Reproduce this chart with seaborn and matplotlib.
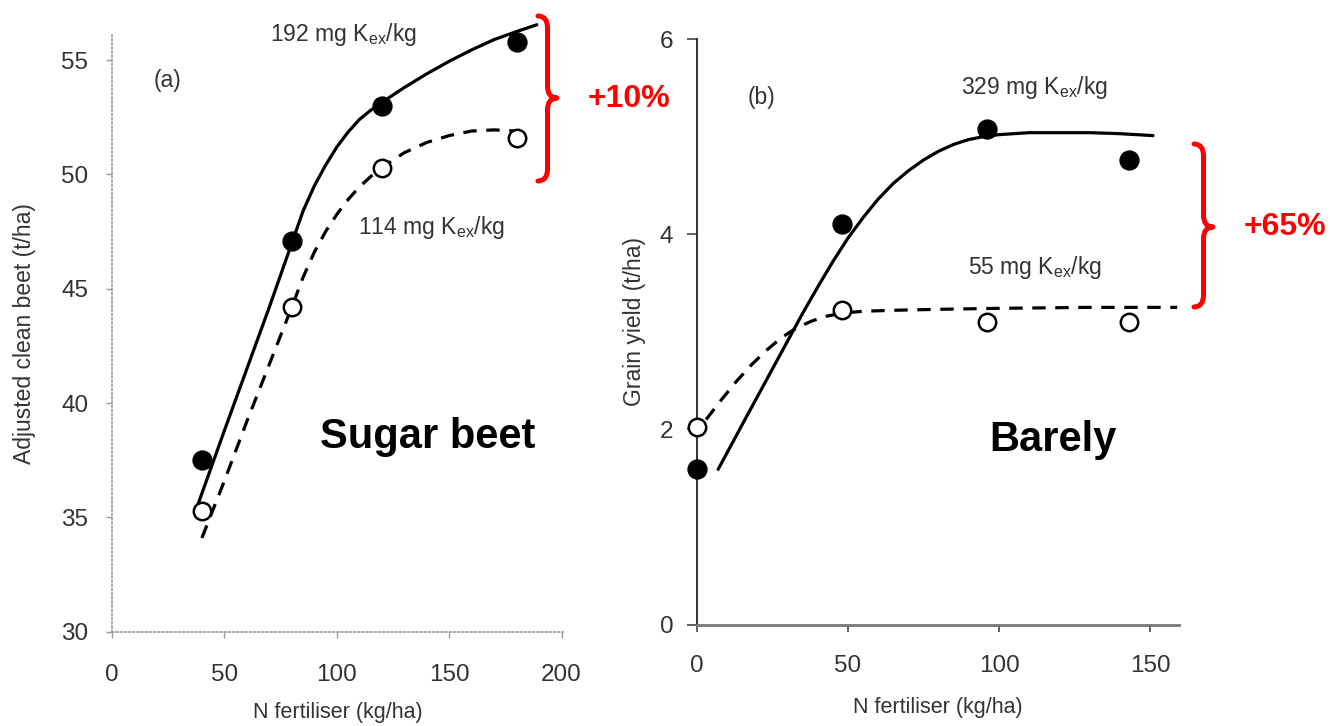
import numpy as np
import pandas as pd
import seaborn as sns
import matplotlib
matplotlib.use("Agg")
import matplotlib.pyplot as plt
from matplotlib.path import Path
from matplotlib.patches import PathPatch

# ---------------- data ----------------
# (a) Sugar beet
sb_n = [40, 80, 120, 180]
sb_high = [37.5, 47.1, 53.0, 55.8]      # 192 mg Kex/kg (filled)
sb_low = [35.3, 44.2, 50.3, 51.6]       # 114 mg Kex/kg (open)
sb_fit_high_x = [38, 50, 60, 70, 80, 85, 90, 95, 100, 105, 110, 115, 120, 130, 140, 150, 160, 170, 180, 189]
sb_fit_high_y = [35.5, 38.8, 41.5, 44.2, 47.0, 48.4, 49.5, 50.4, 51.2, 51.85, 52.4, 52.8, 53.15, 53.8, 54.4,
                 54.95, 55.45, 55.9, 56.25, 56.55]
sb_fit_low_x = [40, 50, 60, 70, 80, 85, 90, 95, 100, 105, 110, 115, 120, 130, 140, 150, 160, 170, 180]
sb_fit_low_y = [34.1, 36.6, 39.2, 41.7, 44.2, 45.5, 46.6, 47.5, 48.25, 48.9, 49.45, 49.9, 50.3, 50.95, 51.4,
                51.7, 51.9, 51.95, 51.9]

# (b) Barley
bar_n = [0, 48, 96, 143]
bar_high = [1.59, 4.1, 5.08, 4.76]      # 329 mg Kex/kg (filled)
bar_low = [2.02, 3.22, 3.1, 3.1]        # 55 mg Kex/kg (open)
bar_fit_high_x = [7, 15, 25, 35, 40, 45, 50, 55, 60, 65, 70, 75, 80, 85, 90, 95, 100, 110, 120, 130, 140, 151]
bar_fit_high_y = [1.59, 2.05, 2.62, 3.19, 3.46, 3.72, 3.96, 4.17, 4.36, 4.52, 4.65, 4.76, 4.85, 4.92, 4.97,
                  5.0, 5.02, 5.04, 5.04, 5.04, 5.03, 5.01]
bar_fit_low_x = [3, 8, 13, 18, 23, 28, 33, 38, 43, 48, 55, 65, 80, 100, 130, 159]
bar_fit_low_y = [2.1, 2.3, 2.49, 2.66, 2.81, 2.94, 3.04, 3.11, 3.16, 3.19, 3.21, 3.22, 3.23, 3.24, 3.25, 3.25]

sb_xticks = [0, 50, 100, 150, 200]
sb_yticks = [30, 35, 40, 45, 50, 55]
bar_xticks = [0, 50, 100, 150]
bar_yticks = [0, 2, 4, 6]

# ---------------- style ----------------
sns.set_theme(style="ticks")
FONT = ["Liberation Sans", "DejaVu Sans"]
plt.rcParams["font.family"] = FONT
plt.rcParams["mathtext.fontset"] = "custom"
plt.rcParams["mathtext.rm"] = "Liberation Sans"
plt.rcParams["lines.dashed_pattern"] = [4.2, 3.0]

W, H = 1330, 726
fig = plt.figure(figsize=(W / 100, H / 100), dpi=100)
fig.patch.set_facecolor("white")

def px_axes(x0, y_top, x1, y_bot):
    return fig.add_axes([x0 / W, 1 - y_bot / H, (x1 - x0) / W, (y_bot - y_top) / H])

TXT = "#333333"
TICK_FS = 17.5
XLAB_FS = 15.5
YLAB_FS = 16.5
ANN_FS = 16.5
BIG_FS = 30
MS = 185
LW = 2.3

# ---------------- panel (a) ----------------
ax1 = px_axes(112, 35, 562.7, 631.7)
ax1.set_xlim(0, 200.5)
ax1.set_ylim(30, 56.1)

sns.lineplot(x=sb_fit_high_x, y=sb_fit_high_y, ax=ax1, color="black", lw=LW, clip_on=False, sort=False)
sns.lineplot(x=sb_fit_low_x, y=sb_fit_low_y, ax=ax1, color="black", lw=LW, linestyle="--", clip_on=False, sort=False)
sns.scatterplot(x=sb_n, y=sb_high, ax=ax1, s=MS, color="black", edgecolor="black", linewidth=1, zorder=5, clip_on=False)
sns.scatterplot(x=sb_n, y=sb_low, ax=ax1, s=MS * 0.85, facecolor="white", edgecolor="black", linewidth=1.8, zorder=5, clip_on=False)

for sp in ["top", "right"]:
    ax1.spines[sp].set_visible(False)
for sp in ["left", "bottom"]:
    ax1.spines[sp].set_linestyle((0, (1, 1.5)))
    ax1.spines[sp].set_color("#9a9a9a")
    ax1.spines[sp].set_linewidth(1.2)
ax1.set_xticks(sb_xticks)
ax1.set_yticks(sb_yticks)
ax1.tick_params(axis="both", colors="#9a9a9a", labelcolor=TXT, labelsize=TICK_FS, length=4, width=1)
ax1.tick_params(axis="x", pad=19)
ax1.tick_params(axis="y", pad=13)
ax1.set_xlabel("N fertiliser (kg/ha)", fontsize=XLAB_FS, color=TXT)
ax1.set_ylabel("Adjusted clean beet (t/ha)", fontsize=YLAB_FS, color=TXT)
ax1.xaxis.set_label_coords(0.5, -0.1346, transform=ax1.transAxes)
ax1.yaxis.set_label_coords(-0.195, 0.5, transform=ax1.transAxes)
ax1.xaxis.label.set_va("center")
ax1.yaxis.label.set_va("center")

ax1.text(103, 56.1, "192 mg K$_{\\mathrm{ex}}$/kg", fontsize=ANN_FS, color=TXT, ha="center", va="center", clip_on=False)
ax1.text(24.9, 54.1, "(a)", fontsize=ANN_FS, color=TXT, ha="center", va="center")
ax1.text(142.3, 47.7, "114 mg K$_{\\mathrm{ex}}$/kg", fontsize=ANN_FS, color=TXT, ha="center", va="center")
ax1.text(140.6, 38.5, "Sugar beet", fontsize=BIG_FS, fontweight="bold", color="black", ha="center", va="center")

# ---------------- panel (b) ----------------
ax2 = px_axes(697, 39, 1179, 624.5)
ax2.set_xlim(0, 159.6)
ax2.set_ylim(0, 6)

sns.lineplot(x=bar_fit_high_x, y=bar_fit_high_y, ax=ax2, color="black", lw=LW, clip_on=False, sort=False)
sns.lineplot(x=bar_fit_low_x, y=bar_fit_low_y, ax=ax2, color="black", lw=LW, linestyle="--", clip_on=False, sort=False)
sns.scatterplot(x=bar_n, y=bar_high, ax=ax2, s=MS, color="black", edgecolor="black", linewidth=1, zorder=5, clip_on=False)
sns.scatterplot(x=bar_n, y=bar_low, ax=ax2, s=MS * 0.85, facecolor="white", edgecolor="black", linewidth=1.8, zorder=5, clip_on=False)

for sp in ["top", "right"]:
    ax2.spines[sp].set_visible(False)
ax2.spines["left"].set_color("#222222")
ax2.spines["left"].set_linewidth(1.3)
ax2.spines["bottom"].set_color("#777777")
ax2.spines["bottom"].set_linewidth(2.0)
ax2.set_xticks(bar_xticks)
ax2.set_yticks(bar_yticks)
ax2.tick_params(axis="both", colors="#444444", labelcolor=TXT, labelsize=TICK_FS, width=1.2)
ax2.tick_params(axis="x", length=5, pad=17)
ax2.tick_params(axis="y", length=7, pad=10)
ax2.set_xlabel("N fertiliser (kg/ha)", fontsize=XLAB_FS, color=TXT)
ax2.set_ylabel("Grain yield (t/ha)", fontsize=YLAB_FS, color=TXT)
ax2.xaxis.set_label_coords(0.5, -0.1426, transform=ax2.transAxes)
ax2.yaxis.set_label_coords(-0.129, 0.518, transform=ax2.transAxes)
ax2.xaxis.label.set_va("center")
ax2.yaxis.label.set_va("center")

ax2.text(21.5, 5.40, "(b)", fontsize=ANN_FS, color=TXT, ha="center", va="center")
ax2.text(111.6, 5.50, "329 mg K$_{\\mathrm{ex}}$/kg", fontsize=ANN_FS, color=TXT, ha="center", va="center")
ax2.text(112, 3.66, "55 mg K$_{\\mathrm{ex}}$/kg", fontsize=ANN_FS, color=TXT, ha="center", va="center")
ax2.text(117.9, 1.89, "Barely", fontsize=BIG_FS, fontweight="bold", color="black", ha="center", va="center")

# ---------------- red braces and percentages ----------------
def brace(x0, y_top, y_bot, w, y_mid=None):
    if y_mid is None:
        y_mid = (y_top + y_bot) / 2
    x1 = x0 + w / 2
    x2 = x0 + w
    h = 12
    pts = [(x0, y_top), (x1, y_top), (x1, y_top + h),
           (x1, y_mid - h), (x1, y_mid), (x2, y_mid),
           (x1, y_mid), (x1, y_mid + h),
           (x1, y_bot - h), (x1, y_bot), (x0, y_bot)]
    codes = [Path.MOVETO, Path.CURVE3, Path.CURVE3,
             Path.LINETO, Path.CURVE3, Path.CURVE3,
             Path.CURVE3, Path.CURVE3,
             Path.LINETO, Path.CURVE3, Path.CURVE3]
    fpts = [(x / W, 1 - y / H) for x, y in pts]
    patch = PathPatch(Path(fpts, codes), transform=fig.transFigure, facecolor="none",
                      edgecolor="#ff0000", lw=3.6, capstyle="round", joinstyle="round")
    fig.add_artist(patch)

brace(538, 16, 181, 19, 98)
brace(1194, 144, 307, 19, 227)
fig.text(629 / W, 1 - 99 / H, "+10%", fontsize=23, fontweight="bold", color="#ff0000", ha="center", va="center")
fig.text(1285 / W, 1 - 227 / H, "+65%", fontsize=23, fontweight="bold", color="#ff0000", ha="center", va="center")

fig.savefig("out.png", dpi=100, facecolor="white")
